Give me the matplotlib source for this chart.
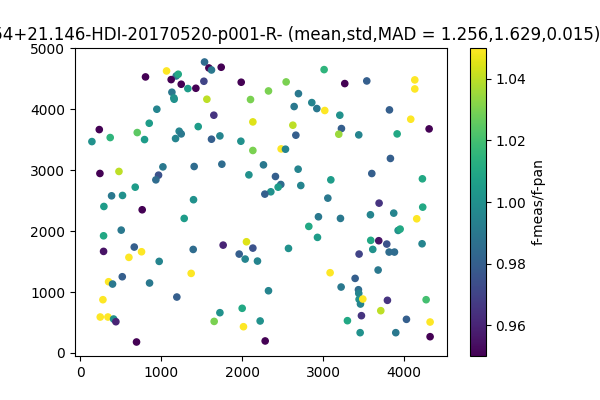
import matplotlib
matplotlib.use('Agg')
import matplotlib.pyplot as plt

# point positions (pixel coords on detector) and flux ratio
x_pos = [1535, 1589, 1621, 1741, 1066, 806, 1185, 1210, 1123, 1247, 1329, 1428, 1527, 1988,
         1132, 1156, 1160, 1564, 2103, 946, 1650, 2132, 235, 852, 704, 370, 144, 794, 1222,
         1247, 1177, 1457, 1621, 1725, 1984, 2132, 243, 478, 1021, 1407, 1749, 967, 934, 2083,
         679, 387, 522, 1399, 292, 765, 1284, 288, 506, 288, 667, 757, 601, 975, 1395, 1765,
         2053, 1963, 2132, 2037, 2189, 1370, 350, 399, 519, 856, 1193, 280, 247, 342, 412,
         440, 1725, 1654, 2000, 2016, 695, 2222, 3012, 2543, 3267, 3539, 4132, 4132, 2325,
         2695, 2860, 2922, 2642, 3020, 3206, 3819, 4082, 2626, 3226, 3193, 2663, 3440, 3914,
         4309, 2481, 2535, 3831, 2263, 2691, 3601, 2411, 3095, 4226, 2724, 2477, 2444, 2354,
         2280, 3058, 3691, 4230, 2942, 3214, 3584, 3872, 4156, 2823, 3926, 3951, 2930, 3588,
         3687, 3786, 4222, 3613, 3815, 3881, 3444, 2572, 3086, 3679, 3395, 3222, 3436, 3440,
         3444, 3461, 3490, 3794, 4272, 3712, 2325, 3473, 4029, 4321, 3300, 3457, 3897, 4321,
         2284]
y_pos = [4775, 4677, 4644, 4689, 4628, 4530, 4546, 4574, 4486, 4410, 4339, 4344, 4459, 4443,
         4279, 4186, 4164, 4164, 4159, 4000, 3902, 3792, 3666, 3770, 3617, 3535, 3469, 3502,
         3639, 3595, 3519, 3715, 3508, 3562, 3475, 3323, 2946, 2979, 3054, 3060, 3098, 2918,
         2841, 2923, 2721, 2579, 2585, 2515, 2404, 2350, 2208, 1923, 2016, 1667, 1738, 1661,
         1569, 1503, 1699, 1770, 1825, 1623, 1721, 1541, 1508, 1306, 1169, 1131, 1251, 1148,
         918, 874, 590, 590, 557, 513, 661, 518, 733, 431, 180, 525, 4650, 4448, 4421, 4464,
         4481, 4333, 4300, 4256, 4109, 4011, 4044, 3979, 3902, 3989, 3836, 3738, 3683, 3590,
         3574, 3579, 3595, 3677, 3349, 3344, 3192, 3087, 3016, 2945, 2896, 2841, 2858, 2748,
         2765, 2721, 2645, 2607, 2541, 2459, 2393, 2235, 2208, 2268, 2295, 2202, 2077, 2011,
         2033, 1897, 1848, 1842, 1787, 1792, 1700, 1656, 1656, 1623, 1716, 1317, 1361, 1224,
         1082, 1038, 978, 880, 803, 885, 864, 874, 694, 1021, 612, 552, 508, 530, 333, 333,
         267, 197]
ratio = [0.985, 0.95, 0.99, 0.95, 1.05, 0.95, 0.99, 1.01, 0.95, 0.95, 1.005, 0.95, 0.97, 0.95,
         0.99, 1.0, 1.0, 1.04, 1.03, 0.995, 0.965, 1.045, 0.95, 1.005, 1.025, 1.015, 1.0, 1.005,
         0.995, 0.99, 0.995, 1.005, 0.98, 0.995, 1.0, 1.03, 0.95, 1.04, 0.99, 0.985, 0.985,
         0.975, 0.985, 1.0, 1.005, 0.99, 1.0, 1.0, 1.005, 0.95, 1.005, 1.01, 0.99, 0.955, 0.98,
         1.05, 1.05, 0.995, 0.985, 0.96, 1.045, 0.98, 0.975, 0.995, 0.995, 1.05, 1.05, 0.99,
         0.98, 0.99, 0.98, 1.05, 1.05, 1.05, 1.0, 0.96, 1.0, 1.03, 1.01, 1.05, 0.95, 1.0, 1.015,
         1.03, 0.95, 0.98, 1.05, 1.05, 1.03, 0.99, 0.995, 0.99, 0.99, 1.05, 1.0, 0.98, 1.05,
         1.04, 0.98, 1.035, 0.98, 0.995, 1.01, 0.95, 1.05, 0.995, 0.98, 0.99, 0.995, 0.98, 0.98,
         1.005, 1.01, 0.995, 0.985, 1.005, 1.0, 0.98, 0.99, 0.965, 1.01, 0.99, 0.99, 0.995,
         0.995, 1.05, 1.01, 1.0, 1.01, 1.005, 1.01, 0.955, 0.975, 0.995, 1.0, 0.985, 0.985, 0.97,
         1.0, 1.05, 0.99, 0.98, 0.99, 0.985, 0.995, 1.0, 0.995, 1.05, 0.965, 1.02, 1.04, 0.995,
         0.965, 0.98, 1.05, 1.01, 1.0, 0.99, 0.95, 0.95]

# the start of the title runs off the left edge in the original
title = 'SN140.954+21.146-HDI-20170520-p001-R- (mean,std,MAD = 1.256,1.629,0.015)'

fig, ax = plt.subplots(figsize=(6, 4), dpi=100)
sc = ax.scatter(x_pos, y_pos, c=ratio, s=20, cmap='viridis', vmin=0.95, vmax=1.05)
cb = fig.colorbar(sc, ax=ax)
cb.set_label('f-meas/f-pan')
ax.set_title(title)

fig.savefig('out.png', dpi=100)
